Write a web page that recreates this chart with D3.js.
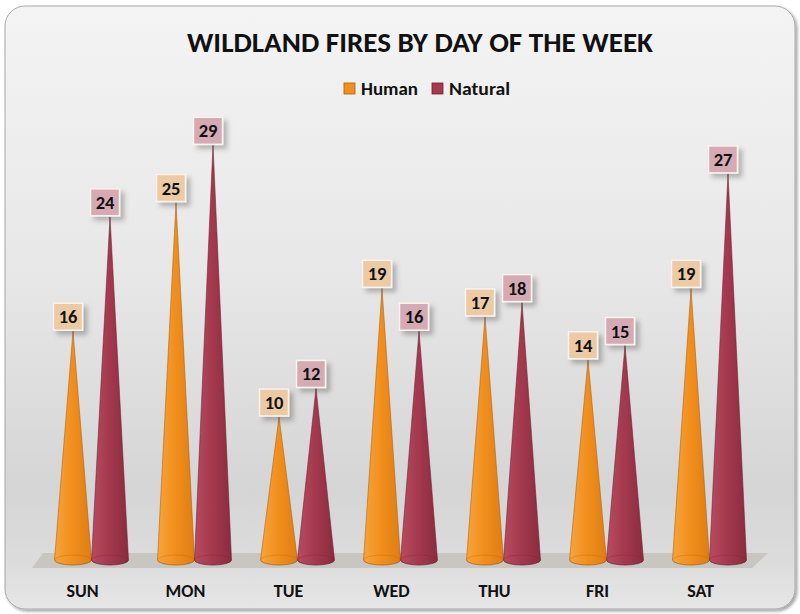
<!DOCTYPE html>
<html>
<head>
<meta charset="utf-8">
<script src="https://cdn.jsdelivr.net/npm/d3@7"></script>
<style>
  html, body { margin: 0; padding: 0; background: #ffffff; }
  svg { display: block; font-family: Carlito, Calibri, 'Open Sans', 'Noto Sans', sans-serif; }
</style>
</head>
<body>
<svg id="chart" width="800" height="614"></svg>
<script>
// chart data
const days = ['SUN', 'MON', 'TUE', 'WED', 'THU', 'FRI', 'SAT'];
const human = [16, 25, 10, 19, 17, 14, 19];
const natural = [24, 29, 12, 16, 18, 15, 27];
const seriesNames = ['Human', 'Natural'];

const width = 800;
const height = 614;
const svg = d3.select('#chart');
const defs = svg.append('defs');

// background gradient
const bg = defs.append('linearGradient').attr('id', 'bg')
  .attr('x1', 0).attr('y1', 0).attr('x2', 0).attr('y2', 1);
bg.append('stop').attr('offset', '0%').attr('stop-color', '#f4f4f4');
bg.append('stop').attr('offset', '45%').attr('stop-color', '#e7e7e7');
bg.append('stop').attr('offset', '80%').attr('stop-color', '#d5d5d5');
bg.append('stop').attr('offset', '92%').attr('stop-color', '#dcdcdc');
bg.append('stop').attr('offset', '100%').attr('stop-color', '#e6e6e6');

const shadow = defs.append('filter').attr('id', 'shadow')
  .attr('x', '-30%').attr('y', '-30%').attr('width', '180%').attr('height', '180%');
shadow.append('feDropShadow').attr('dx', 4).attr('dy', 4)
  .attr('stdDeviation', 2.5).attr('flood-color', '#000').attr('flood-opacity', 0.25);

const boxShadow = defs.append('filter').attr('id', 'boxShadow')
  .attr('x', '-5%').attr('y', '-5%').attr('width', '110%').attr('height', '110%');
boxShadow.append('feDropShadow').attr('dx', 2).attr('dy', 2)
  .attr('stdDeviation', 1.5).attr('flood-color', '#000').attr('flood-opacity', 0.35);

// cone gradients
const coneColors = {
  Human: ['#f7a43a', '#f2901e', '#de7d12'],
  Natural: ['#b84b60', '#a53a4f', '#8c2b3e'],
};
Object.keys(coneColors).forEach((k) => {
  const g = defs.append('linearGradient').attr('id', 'cone' + k)
    .attr('x1', 0).attr('y1', 0).attr('x2', 1).attr('y2', 0);
  g.append('stop').attr('offset', '0%').attr('stop-color', coneColors[k][0]);
  g.append('stop').attr('offset', '45%').attr('stop-color', coneColors[k][1]);
  g.append('stop').attr('offset', '100%').attr('stop-color', coneColors[k][2]);
});

svg.append('rect')
  .attr('x', 5).attr('y', 6)
  .attr('width', 790).attr('height', 603)
  .attr('rx', 20).attr('ry', 20)
  .attr('fill', 'url(#bg)')
  .attr('stroke', '#a8a8a8')
  .attr('stroke-width', 1)
  .attr('filter', 'url(#boxShadow)');

// Title
svg.append('text')
  .attr('x', 420).attr('y', 52)
  .attr('text-anchor', 'middle')
  .attr('font-size', 29)
  .attr('font-weight', 'bold')
  .attr('fill', '#111')
  .attr('textLength', 466)
  .attr('lengthAdjust', 'spacingAndGlyphs')
  .text('WILDLAND FIRES BY DAY OF THE WEEK');

// Legend
const legendFill = { Human: '#f2901e', Natural: '#a53a4f' };
const legendStroke = { Human: '#a85f10', Natural: '#6e2030' };
const legendX = [344, 432];
const legendW = [57, 61];
seriesNames.forEach((s, i) => {
  svg.append('rect')
    .attr('x', legendX[i]).attr('y', 83)
    .attr('width', 11).attr('height', 11)
    .attr('fill', legendFill[s])
    .attr('stroke', legendStroke[s])
    .attr('stroke-width', 0.8);
  svg.append('text')
    .attr('x', legendX[i] + 17).attr('y', 95)
    .attr('font-size', 18)
    .attr('font-weight', 'bold')
    .attr('fill', '#111')
    .attr('textLength', legendW[i])
    .attr('lengthAdjust', 'spacingAndGlyphs')
    .text(s);
});

// Scales
const x = d3.scaleBand().domain(days).range([40, 761]);
const y = d3.scaleLinear().domain([0, 30]).range([560, 131]);
const half = 18.5;
const ry = 5;
const offset = { Human: -18.5, Natural: 18.5 };

// Floor
const floorTop = 553;
const floorBottom = 568;
svg.append('path')
  .attr('d', `M43,${floorTop}L768,${floorTop}L752,${floorBottom}L32,${floorBottom}Z`)
  .attr('fill', '#c4c2bb')
  .attr('opacity', 0.85);

// Cones
function conePath(cx, v) {
  const ty = y(v);
  const by = y(0);
  return `M${cx},${ty}L${cx + half},${by}` +
    `A${half},${ry} 0 0 1 ${cx - half},${by}Z`;
}

const rows = days.map((d, i) => ({ day: d, Human: human[i], Natural: natural[i] }));
const groups = svg.append('g').selectAll('g')
  .data(rows)
  .join('g');

seriesNames.forEach((s) => {
  groups.append('path')
    .attr('d', (d) => conePath(x(d.day) + x.bandwidth() / 2 + offset[s], d[s]))
    .attr('fill', 'url(#cone' + s + ')')
    .attr('stroke', legendStroke[s])
    .attr('stroke-width', 0.7)
    .attr('stroke-opacity', 0.8);
  groups.append('ellipse')
    .attr('cx', (d) => x(d.day) + x.bandwidth() / 2 + offset[s])
    .attr('cy', y(0))
    .attr('rx', half)
    .attr('ry', ry)
    .attr('fill', 'none')
    .attr('stroke', legendStroke[s])
    .attr('stroke-width', 0.6)
    .attr('stroke-opacity', 0.5);
});

// Data labels
const labelFill = { Human: '#eccaa4', Natural: '#d5aab5' };
const boxW = 29;
const boxH = 27;
seriesNames.forEach((s) => {
  const lab = svg.append('g').selectAll('g')
    .data(rows)
    .join('g')
    .attr('transform', (d) => {
      const cx = x(d.day) + x.bandwidth() / 2 + offset[s] - 5;
      return `translate(${cx},${y(d[s]) - boxH / 2 - 1})`;
    });
  lab.append('rect')
    .attr('x', -boxW / 2).attr('y', -boxH / 2)
    .attr('width', boxW).attr('height', boxH)
    .attr('fill', labelFill[s])
    .attr('stroke', '#fbf4ee')
    .attr('stroke-width', 1.5)
    .attr('filter', 'url(#shadow)');
  lab.append('text')
    .attr('text-anchor', 'middle')
    .attr('y', 6.5)
    .attr('font-size', 18.5)
    .attr('font-weight', 'bold')
    .attr('fill', '#111')
    .text((d) => d[s]);
});

// Category labels
svg.append('g').selectAll('text')
  .data(days)
  .join('text')
  .attr('x', (d) => x(d) + x.bandwidth() / 2 - 9)
  .attr('y', 597)
  .attr('text-anchor', 'middle')
  .attr('font-size', 18)
  .attr('font-weight', 'bold')
  .attr('fill', '#111')
  .text((d) => d);
</script>
</body>
</html>
